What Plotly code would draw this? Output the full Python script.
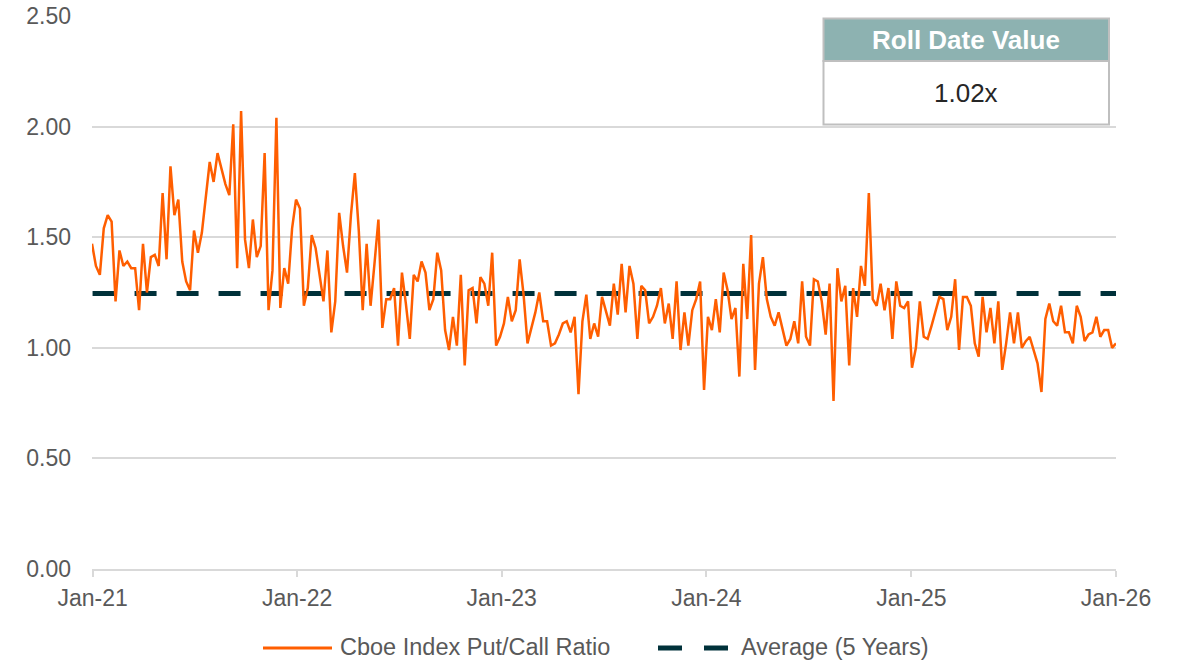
import pandas as pd
import plotly.graph_objects as go

# ---- data (weekly Cboe Index Put/Call Ratio) ----
ratio_2021 = [1.47, 1.37, 1.33, 1.54, 1.60, 1.57, 1.21, 1.44, 1.37, 1.39, 1.36, 1.36, 1.17, 1.47, 1.25,
              1.41, 1.42, 1.37, 1.70, 1.40, 1.82, 1.60, 1.67, 1.39, 1.30, 1.26, 1.53, 1.43, 1.52, 1.68,
              1.84, 1.75, 1.88, 1.81, 1.74, 1.69, 2.01, 1.36, 2.07, 1.49, 1.36, 1.58, 1.41, 1.46, 1.88,
              1.17, 1.35, 2.04, 1.18, 1.36, 1.29, 1.54, 1.67]
ratio_2022 = [1.63, 1.19, 1.27, 1.51, 1.45, 1.32, 1.21, 1.44, 1.07, 1.21, 1.61, 1.46, 1.34, 1.60, 1.79,
              1.53, 1.17, 1.47, 1.19, 1.38, 1.58, 1.09, 1.22, 1.22, 1.27, 1.01, 1.34, 1.20, 1.04, 1.33,
              1.30, 1.39, 1.34, 1.17, 1.22,
              1.43, 1.35, 1.08, 0.99, 1.14, 1.01, 1.33, 0.92, 1.26, 1.27, 1.11, 1.32, 1.29, 1.19, 1.43,
              1.01, 1.05]
ratio_2023 = [1.11, 1.23, 1.12, 1.17, 1.40, 1.24, 1.02, 1.09, 1.16, 1.25, 1.12, 1.12, 1.01, 1.02, 1.06,
              1.11, 1.12, 1.07, 1.14, 0.79, 1.12, 1.24, 1.04, 1.11, 1.05, 1.23, 1.16,
              1.10, 1.29, 1.15, 1.38, 1.16, 1.37, 1.29, 1.04, 1.28, 1.26, 1.11, 1.14, 1.19, 1.27, 1.11,
              1.20, 1.04, 1.30, 0.99, 1.16, 1.01, 1.17, 1.22, 1.30, 0.81]
ratio_2024 = [1.14, 1.08, 1.22, 1.07, 1.34, 1.26, 1.13, 1.18, 0.87, 1.38, 1.13, 1.51, 0.90, 1.29, 1.41,
              1.22, 1.14, 1.10,
              1.16, 1.08, 1.01, 1.04, 1.12, 1.02, 1.30, 1.05, 1.01, 1.31, 1.30, 1.21, 1.06, 1.29, 0.76,
              1.36, 1.21, 1.28, 0.92, 1.27, 1.14, 1.37, 1.28, 1.70, 1.22, 1.19, 1.29, 1.17, 1.27, 1.04,
              1.30, 1.19, 1.18, 1.21]
ratio_2025 = [0.91, 1.00, 1.21, 1.05, 1.04, 1.10,
              1.17, 1.23, 1.22, 1.08, 1.14, 1.31, 0.99, 1.23, 1.23, 1.19, 1.02, 0.96, 1.23, 1.07, 1.18,
              1.02, 1.21, 0.90, 1.02, 1.16, 1.02, 1.16, 1.00, 1.03, 1.05, 0.99, 0.93, 0.80, 1.13, 1.20,
              1.12, 1.10, 1.19, 1.07, 1.07, 1.02, 1.19, 1.14, 1.03, 1.06, 1.07, 1.14, 1.05, 1.08, 1.08,
              1.00, 1.02]

AVG_5Y = 1.245
ROLL_DATE_VALUE = 1.02

tick_dates = ["2021-01-01", "2022-01-01", "2023-01-01", "2024-01-01", "2025-01-01", "2026-01-01"]
tick_labels = ["Jan-21", "Jan-22", "Jan-23", "Jan-24", "Jan-25", "Jan-26"]
y_ticks = [0.0, 0.5, 1.0, 1.5, 2.0, 2.5]

series_name = "Cboe Index Put/Call Ratio"
avg_name = "Average (5 Years)"

# ---- build ----
ratio = ratio_2021 + ratio_2022 + ratio_2023 + ratio_2024 + ratio_2025
dates = pd.date_range("2020-12-31", periods=len(ratio), freq="7D")

ORANGE = "#FF5E00"
DARK = "#00313A"
GRID = "#D9D9D9"
TXT = "#595959"
FONT = "Liberation Sans, Arial, sans-serif"

fig = go.Figure()
fig.add_trace(go.Scatter(x=[tick_dates[0], tick_dates[-1]], y=[AVG_5Y, AVG_5Y], mode="lines",
                         name=avg_name, line=dict(color=DARK, width=5, dash="22px,20px"),
                         showlegend=False, hoverinfo="skip"))
fig.add_trace(go.Scatter(x=dates, y=ratio, mode="lines", name=series_name,
                         line=dict(color=ORANGE, width=2.5), showlegend=False))

L, R, T, B = 92, 65, 16, 92
W, H = 1181, 661
pw, ph = W - L - R, H - T - B


def px(xp):
    return (xp - L) / pw


def py(yp):
    return (H - B - yp) / ph


fig.update_layout(
    width=W, height=H,
    margin=dict(l=L, r=R, t=T, b=B, autoexpand=False),
    paper_bgcolor="white", plot_bgcolor="white",
    font=dict(family=FONT, size=23, color=TXT),
    showlegend=False,
)
fig.update_xaxes(
    type="date", range=["2020-12-31", "2026-01-01"],
    tickvals=tick_dates, ticktext=tick_labels,
    showgrid=False, zeroline=False, automargin=False,
    showline=True, linecolor=GRID, linewidth=1.5,
    ticks="outside", ticklen=6, tickcolor=GRID, tickwidth=1.5,
    ticklabelstandoff=2,
    tickfont=dict(size=23, color=TXT, family=FONT),
)
fig.update_yaxes(
    range=[0, 2.5], tickvals=y_ticks, tickformat=".2f",
    showgrid=True, gridcolor=GRID, gridwidth=1.5, automargin=False,
    zeroline=False, showline=False, ticks="",
    ticklabelstandoff=20,
    tickfont=dict(size=23, color=TXT, family=FONT),
)

# Roll Date Value box
bx0, bx1 = px(823.5), px(1109)
by_top, by_mid, by_bot = py(18.5), py(61), py(124.5)
fig.add_shape(type="rect", xref="paper", yref="paper", x0=bx0, x1=bx1, y0=by_mid, y1=by_top,
              fillcolor="#8DB2B1", line=dict(color="#BFBFBF", width=2), layer="above")
fig.add_shape(type="rect", xref="paper", yref="paper", x0=bx0, x1=bx1, y0=by_bot, y1=by_mid,
              fillcolor="white", line=dict(color="#BFBFBF", width=2), layer="above")
fig.add_annotation(xref="paper", yref="paper", x=(bx0 + bx1) / 2, y=(by_mid + by_top) / 2,
                   text="<b>Roll Date Value</b>", showarrow=False,
                   font=dict(size=26, color="white", family=FONT), xanchor="center", yanchor="middle")
fig.add_annotation(xref="paper", yref="paper", x=(bx0 + bx1) / 2, y=(by_bot + by_mid) / 2,
                   text=f"{ROLL_DATE_VALUE:.2f}x", showarrow=False,
                   font=dict(size=26, color="#262626", family=FONT), xanchor="center", yanchor="middle")

# Legend (drawn)
ly = py(648)
fig.add_shape(type="line", xref="paper", yref="paper", x0=px(263), x1=px(332), y0=ly, y1=ly,
              line=dict(color=ORANGE, width=3))
fig.add_annotation(xref="paper", yref="paper", x=px(339), y=py(647), text=series_name, showarrow=False,
                   xanchor="left", yanchor="middle", borderpad=0,
                   font=dict(size=23.5, color=TXT, family=FONT))
fig.add_shape(type="line", xref="paper", yref="paper", x0=px(658), x1=px(728), y0=ly, y1=ly,
              line=dict(color=DARK, width=5, dash="24px,22px"))
fig.add_annotation(xref="paper", yref="paper", x=px(740), y=py(647), text=avg_name, showarrow=False,
                   xanchor="left", yanchor="middle", borderpad=0,
                   font=dict(size=23.5, color=TXT, family=FONT))

fig.write_html("out.html", config={"displayModeBar": False},
               post_script="document.body.style.margin='0px';document.body.style.overflow='hidden';")
